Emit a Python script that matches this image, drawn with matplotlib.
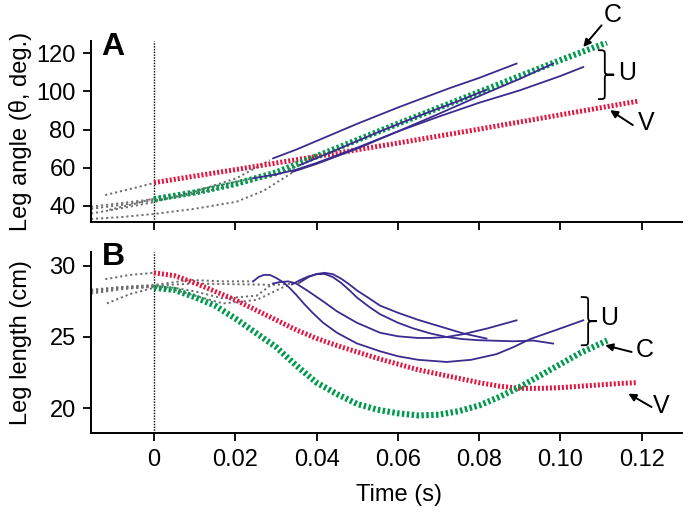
import matplotlib
matplotlib.use('Agg')
import matplotlib.pyplot as plt
from matplotlib.path import Path
from matplotlib.patches import PathPatch

plt.rcParams['font.family'] = ['Liberation Sans', 'DejaVu Sans']

# ---- panel A: leg angle (deg) ----
green_a_t = [0, 0.01, 0.02, 0.03, 0.04, 0.05, 0.06, 0.07, 0.08, 0.09, 0.10, 0.1114]
green_a = [43.6, 47.0, 51.5, 57.5, 66.0, 74.5, 83.0, 91.3, 99.6, 108.0, 116.3, 125.5]
red_a_t = [0, 0.02, 0.04, 0.06, 0.08, 0.10, 0.119]
red_a = [52.2, 59.0, 65.9, 72.9, 80.2, 87.7, 94.8]

purple_a = [
    ([0.036, 0.045, 0.055, 0.065, 0.075, 0.0818],
     [61.5, 69.5, 78.5, 87.0, 95.0, 100.8]),
    ([0.034, 0.04, 0.05, 0.06, 0.0704, 0.08, 0.09, 0.0982],
     [57.8, 62.0, 70.0, 79.0, 88.5, 97.5, 106.5, 114.5]),
    ([0.0293, 0.035, 0.04, 0.05, 0.06, 0.065, 0.0728, 0.08, 0.0892],
     [64.9, 69.5, 74.0, 83.0, 91.5, 95.5, 101.7, 107.0, 114.5]),
    ([0.0244, 0.03, 0.035, 0.04, 0.05, 0.06, 0.0704, 0.08, 0.09, 0.10, 0.1056],
     [54.5, 56.5, 59.0, 62.5, 70.5, 79.0, 87.0, 94.0, 100.5, 108.0, 112.7]),
]
grey_a = [
    ([-0.012, -0.006, 0], [45.7, 48.8, 52.0]),
    ([-0.0155, -0.008, 0], [39.6, 41.5, 43.6]),
    ([-0.0155, -0.008, 0, 0.01, 0.0203, 0.0285], [36.0, 38.8, 42.0, 47.5, 54.5, 64.0]),
    ([-0.0155, -0.008, 0, 0.01, 0.0203, 0.03, 0.036], [38.5, 40.5, 42.8, 46.5, 51.0, 56.0, 61.5]),
    ([-0.0155, -0.008, 0, 0.01, 0.0203, 0.027, 0.0343], [33.2, 34.2, 35.8, 38.5, 42.2, 48.0, 57.8]),
    ([-0.011, -0.005, 0, 0.01, 0.0244], [38.0, 41.0, 44.0, 48.0, 54.5]),
]

# ---- panel B: leg length (cm) ----
green_b_t = [0, 0.005, 0.01, 0.015, 0.02, 0.025, 0.03, 0.035, 0.04, 0.045, 0.05, 0.055,
             0.06, 0.065, 0.07, 0.075, 0.08, 0.085, 0.09, 0.095, 0.10, 0.105, 0.1115]
green_b = [28.45, 28.3, 27.8, 27.2, 26.3, 25.3, 24.3, 23.0, 21.8, 21.0, 20.3, 19.9,
           19.65, 19.5, 19.55, 19.8, 20.2, 20.8, 21.5, 22.3, 23.1, 23.9, 24.75]
red_b_t = [0, 0.005, 0.01, 0.015, 0.02, 0.025, 0.03, 0.035, 0.04, 0.045, 0.05, 0.055, 0.06,
           0.065, 0.07, 0.075, 0.08, 0.085, 0.09, 0.095, 0.10, 0.105, 0.11, 0.115, 0.119]
red_b = [29.5, 29.3, 28.8, 28.2, 27.6, 26.9, 26.2, 25.5, 24.9, 24.4, 23.95, 23.5, 23.1,
         22.7, 22.4, 22.1, 21.8, 21.55, 21.4, 21.4, 21.45, 21.55, 21.65, 21.75, 21.8]

purple_b = [
    ([0.036, 0.038, 0.040, 0.042, 0.044, 0.046, 0.048, 0.050, 0.053, 0.0556, 0.06, 0.065,
      0.0679, 0.072, 0.0761, 0.0818],
     [28.85, 29.2, 29.42, 29.5, 29.4, 29.1, 28.7, 28.25, 27.7, 27.2, 26.7, 26.2,
      25.95, 25.6, 25.25, 24.89]),
    ([0.034, 0.036, 0.038, 0.040, 0.042, 0.044, 0.046, 0.048, 0.050, 0.053, 0.0556, 0.06,
      0.0638, 0.068, 0.072, 0.076, 0.0802, 0.0884, 0.0933, 0.0982],
     [28.7, 29.0, 29.25, 29.4, 29.42, 29.2, 28.8, 28.3, 27.75, 27.1, 26.6, 26.0,
      25.6, 25.25, 25.0, 24.85, 24.77, 24.7, 24.75, 24.54]),
    ([0.0293, 0.031, 0.033, 0.035, 0.038, 0.0416, 0.045, 0.0499, 0.0556, 0.06, 0.065,
      0.0679, 0.072, 0.0761, 0.082, 0.0892],
     [28.75, 28.85, 28.9, 28.75, 28.2, 27.5, 26.8, 26.0, 25.3, 25.05, 24.93,
      24.93, 25.0, 25.2, 25.6, 26.17]),
    ([0.0244, 0.0257, 0.027, 0.0285, 0.030, 0.032, 0.0335, 0.035, 0.037, 0.039, 0.0416,
      0.045, 0.0499, 0.0556, 0.06, 0.065, 0.072, 0.078, 0.0843, 0.0885, 0.0925, 0.099, 0.1056],
     [28.9, 29.2, 29.35, 29.35, 29.15, 28.8, 28.4, 27.95, 27.3, 26.7, 26.0,
      25.3, 24.55, 24.0, 23.65, 23.4, 23.25, 23.4, 23.8, 24.3, 24.85, 25.5, 26.17]),
]
grey_b = [
    ([-0.012, -0.006, 0], [29.05, 29.35, 29.5]),
    ([-0.0155, -0.008, 0], [28.16, 28.4, 28.5]),
    ([-0.0155, -0.008, 0, 0.005, 0.01, 0.017, 0.0253, 0.0293],
     [28.04, 28.35, 28.55, 28.45, 28.2, 27.7, 27.9, 28.75]),
    ([-0.0155, -0.008, 0, 0.01, 0.02, 0.03, 0.036], [28.32, 28.5, 28.6, 28.75, 28.7, 28.65, 28.8]),
    ([-0.0116, -0.006, 0, 0.005, 0.01, 0.017, 0.0253, 0.0318, 0.034],
     [27.35, 28.0, 28.45, 28.3, 27.9, 27.35, 27.6, 28.5, 28.7]),
    ([-0.0155, -0.008, 0, 0.009, 0.017, 0.0244], [28.25, 28.5, 28.65, 29.0, 28.9, 28.9]),
]

xticks = [0, 0.02, 0.04, 0.06, 0.08, 0.10, 0.12]
xticklabels = ['0', '0.02', '0.04', '0.06', '0.08', '0.10', '0.12']

GREEN = '#009a4e'
RED = '#e3143f'
PURPLE = '#3d2a8f'
GREY = '#6e6e6e'
FS = 17


def brace(ax, x0, x1, x2, ytop, ybot, r):
    ym = (ytop + ybot) / 2
    verts = [(x0, ytop), (x1, ytop), (x1, ytop), (x1, ytop - r),
             (x1, ym + r),
             (x1, ym), (x1, ym), (x2, ym),
             (x1, ym), (x1, ym), (x1, ym - r),
             (x1, ybot + r),
             (x1, ybot), (x1, ybot), (x0, ybot)]
    codes = [Path.MOVETO, Path.CURVE4, Path.CURVE4, Path.CURVE4,
             Path.LINETO,
             Path.CURVE4, Path.CURVE4, Path.CURVE4,
             Path.CURVE4, Path.CURVE4, Path.CURVE4,
             Path.LINETO,
             Path.CURVE4, Path.CURVE4, Path.CURVE4]
    ax.add_patch(PathPatch(Path(verts, codes), fill=False, lw=1.3,
                           edgecolor='k', clip_on=False))


def draw(ax, greys, purples, rt, ry, gt, gy):
    ax.axvline(0, color='k', lw=1.0, ls=(0, (1, 1)), zorder=1)
    for t, y in greys:
        ax.plot(t, y, color=GREY, lw=1.4, ls=(0, (1.1, 1.5)), zorder=2)
    ax.plot(rt, ry, color=RED, lw=3.6, ls=(0, (0.4, 0.4)), zorder=3)
    ax.plot(gt, gy, color=GREEN, lw=4.4, ls=(0, (0.4, 0.4)), zorder=4)
    for t, y in purples:
        ax.plot(t, y, color=PURPLE, lw=1.3, zorder=5)
    ax.set_xlim(-0.0155, 0.1298)
    ax.set_xticks(xticks)
    for s in ['top', 'right']:
        ax.spines[s].set_visible(False)
    for s in ['left', 'bottom']:
        ax.spines[s].set_linewidth(1.4)
    ax.tick_params(direction='out', length=6, width=1.3, labelsize=FS, pad=5)


fig = plt.figure(figsize=(6.92, 5.12), dpi=100)
ax1 = fig.add_axes([0.1315, 0.5664, 0.8535, 0.3535])
ax2 = fig.add_axes([0.1315, 0.1549, 0.8535, 0.3535])

draw(ax1, grey_a, purple_a, red_a_t, red_a, green_a_t, green_a)
ax1.set_ylim(31.6, 126.3)
ax1.set_yticks([40, 60, 80, 100, 120])
ax1.set_xticklabels([])
ax1.set_ylabel('Leg angle (\u03b8, deg.)', fontsize=FS)
ax1.yaxis.set_label_coords(-0.10, 0.5)
ax1.text(0.017, 0.923, 'A', transform=ax1.transAxes, fontsize=23, fontweight='bold')

draw(ax2, grey_b, purple_b, red_b_t, red_b, green_b_t, green_b)
ax2.set_ylim(18.29, 30.98)
ax2.set_yticks([20, 25, 30])
ax2.set_xticklabels(xticklabels)
ax2.tick_params(axis='x', pad=6)
ax2.set_ylabel('Leg length (cm)', fontsize=FS)
ax2.yaxis.set_label_coords(-0.10, 0.5)
ax2.set_xlabel('Time (s)', fontsize=FS)
ax2.xaxis.set_label_coords(0.521, -0.285)
ax2.text(0.019, 0.926, 'B', transform=ax2.transAxes, fontsize=23, fontweight='bold')

arrow = dict(arrowstyle='-|>', color='k', lw=1.4, mutation_scale=11, shrinkA=0, shrinkB=0)

# panel A labels
ax1.annotate('', xy=(0.1056, 123.2), xytext=(0.1101, 134.5), arrowprops=arrow,
             annotation_clip=False)
ax1.text(0.1129, 139.7, 'C', fontsize=18, ha='center', va='center', clip_on=False)
brace(ax1, 0.1092, 0.1109, 0.1132, 121.5, 95.9, 2.6)
ax1.text(0.1165, 109.5, 'U', fontsize=18, ha='center', va='center')
ax1.annotate('', xy=(0.1122, 90.1), xytext=(0.1178, 82.3), arrowprops=arrow)
ax1.text(0.1210, 83.5, 'V', fontsize=18, ha='center', va='center', clip_on=False)

# panel B labels
brace(ax2, 0.105, 0.1068, 0.1089, 27.8, 24.42, 0.35)
ax2.text(0.1120, 26.36, 'U', fontsize=18, ha='center', va='center')
ax2.annotate('', xy=(0.111, 24.42), xytext=(0.1175, 23.95), arrowprops=arrow)
ax2.text(0.1207, 24.07, 'C', fontsize=18, ha='center', va='center')
ax2.annotate('', xy=(0.1167, 21.03), xytext=(0.1224, 20.09), arrowprops=arrow)
ax2.text(0.1247, 20.15, 'V', fontsize=18, ha='center', va='center', clip_on=False)

fig.savefig('out.png', dpi=100)
